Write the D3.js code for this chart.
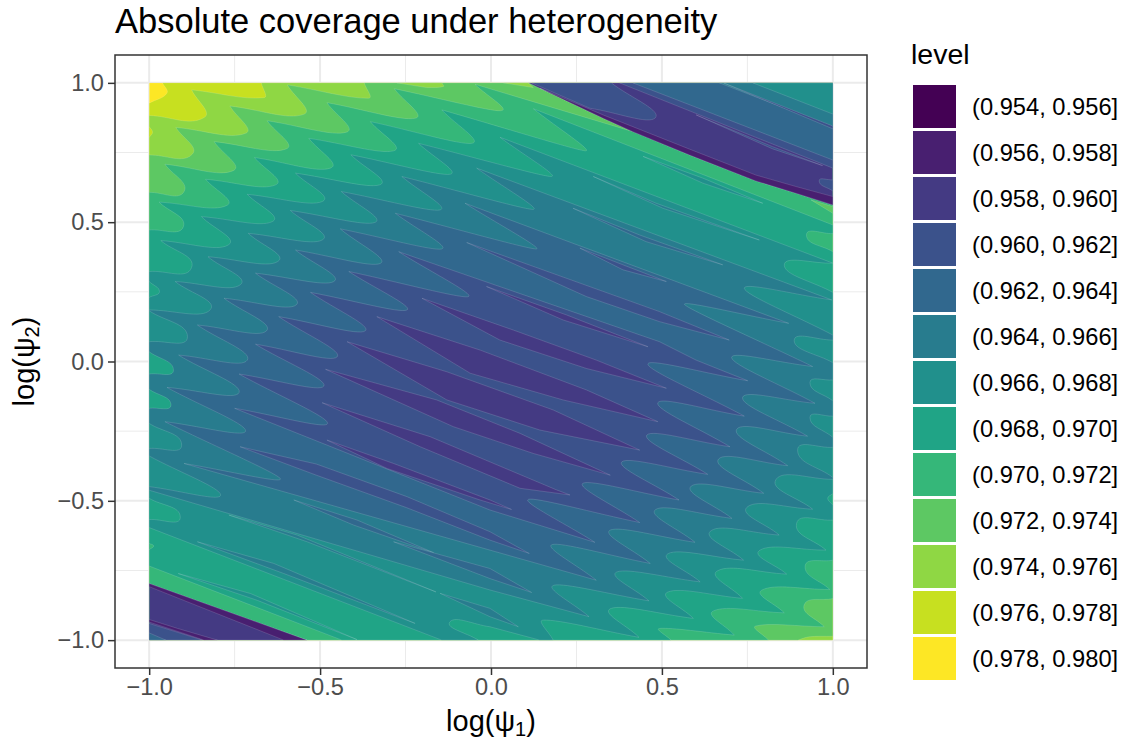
<!DOCTYPE html>
<html>
<head>
<meta charset="utf-8">
<script src="https://cdn.jsdelivr.net/npm/d3@7"></script>
<style>
  html, body { margin: 0; padding: 0; background: #fff; }
  text { font-family: "Liberation Sans", Arial, sans-serif; }
</style>
</head>
<body>
<div id="chart"></div>
<script>
// legend levels
const levels = ['(0.954, 0.956]', '(0.956, 0.958]', '(0.958, 0.960]', '(0.960, 0.962]', '(0.962, 0.964]',
  '(0.964, 0.966]', '(0.966, 0.968]', '(0.968, 0.970]', '(0.970, 0.972]', '(0.972, 0.974]',
  '(0.974, 0.976]', '(0.976, 0.978]', '(0.978, 0.980]'];
const xTicks = [-1, -0.5, 0, 0.5, 1];
const yTicks = [-1, -0.5, 0, 0.5, 1];
const minorTicks = [-0.75, -0.25, 0.25, 0.75];

// contours as [log psi1, log psi2], third entry marks a rounded nose
const below978 = [[-1,.927],[-.948,.963,1],[-.961,1],[1,1],[1,-1],[-1,-1]];
const below976 = [[-1,.883],[-.839,.876,1],[-.876,.975],[-.664,.947,1],[-.672,1],[1,1],[1,-1],[-1,-1]];
const below974 = [[-1,.741],[-.874,.744,1],[-.922,.84],[-.718,.819,1],[-.764,.917],[-.548,.887,1],[-.596,.993],
  [-.358,.945,1],[-.371,1],[1,1],[1,-.986],[.931,-.988,1],[.897,-1],[-1,-1]];
const below972 = [[-1,.607],[-.898,.61,1],[-.954,.708],[-.754,.685,1],[-.81,.789],[-.599,.763,1],[-.655,.864],
  [-.423,.823,1],[-.48,.929],[-.222,.873,1],[-.283,.979],[.028,.9,1],[-.047,.995],[.415,.825],[1,1],
  [1,-.851],[.916,-.874,1],[.975,-.952],[.775,-.949,1],[.812,-1],[-1,-1]];
const below970 = [[-1,.472],[-.9,.484,1],[-.971,.572],[-.773,.56,1],[-.835,.654],[-.63,.634,1],[-.692,.732],
  [-.47,.694,1],[-.533,.801],[-.285,.756,1],[-.353,.861],[-.056,.783,1],[-.144,.903],[.277,.756,1],[.124,.907],
  [1,.49],[1,.459],[.923,.454,1],[1,.394],[1,-.713],[.919,-.734,1],[.991,-.818],[.793,-.82,1],[.858,-.902],
  [.651,-.895,1],[.712,-.982],[.493,-.958,1],[.527,-1],[-.436,-1],[-1,-.734]];
const below968 = [[-1,.323],[-.876,.337,1],[-.966,.434],[-.769,.418,1],[-.847,.52],[-.64,.502,1],[-.713,.6],
  [-.494,.574,1],[-.572,.676],[-.326,.634,1],[-.41,.742],[-.12,.672,1],[-.212,.783],[.177,.664,1],[.026,.805],
  [1,.353],[.858,.346,1],[1,.248],[1,-.474],[.985,-.491,1],[1,-.515],[1,-.569],[.894,-.581,1],[.98,-.677],
  [.787,-.677,1],[.865,-.763],[.663,-.751,1],[.736,-.85],[.518,-.827,1],[.592,-.922],[.352,-.886,1],[.433,-.99],
  [.153,-.928,1],[.182,-1],[.143,-1],[-.003,-.952],[-.12,-.934,1],[-.037,-1],[-.144,-1],[-1,-.596]];
const below966 = [[-1,.185],[-.822,.185,1],[-.924,.287],[-.734,.275,1],[-.828,.376],[-.625,.358,1],[-.71,.46],
  [-.494,.436,1],[-.587,.542],[-.34,.499,1],[-.438,.61],[-.149,.544,1],[-.261,.664],[.124,.546,1],[-.042,.694],
  [.997,.221],[.741,.263,1],[1,.095],[1,.077],[.887,.075,1],[1,-.004],[1,-.066],[.933,-.076,1],[1,-.141],
  [1,-.196],[.933,-.201,1],[1,-.272],[1,-.308],[.897,-.318,1],[1,-.416],[1,-.423],[.834,-.423,1],[.941,-.53],
  [.751,-.521,1],[.843,-.623],[.644,-.607,1],[.739,-.713],[.519,-.689,1],[.612,-.791],[.369,-.755,1],[.462,-.859],
  [.184,-.803,1],[.287,-.916],[-.003,-.82],[-1,-.462],[-1,-.449],[-.791,-.479,1],[-1,-.339],[-1,-.312],
  [-.905,-.3,1],[-1,-.222],[-1,.071],[-.888,.089,1],[-1,.182]];
const below964 = [[-.898,-.366],[-.616,-.421,1],[-.954,-.216],[-.718,-.249,1],[-.948,-.093],[-.737,-.111,1],
  [-.914,.023],[-.713,.005,1],[-.859,.131],[-.657,.11,1],[-.781,.227],[-.57,.203,1],[-.689,.317],[-.46,.287,1],
  [-.572,.4],[-.324,.352,1],[-.441,.476],[-.144,.404,1],[-.28,.532],[.133,.404,1],[-.076,.568],[.871,.137],
  [.566,.205,1],[.941,-.018],[.704,.014,1],[.948,-.15],[.736,-.129,1],[.926,-.268],[.719,-.243,1],[.868,-.374],
  [.666,-.35,1],[.798,-.473],[.586,-.447,1],[.705,-.563],[.482,-.531,1],[.597,-.649],[.349,-.605,1],[.466,-.725],
  [.179,-.657,1],[.308,-.785]];
const below962 = [[-.27,.394],[.493,.071],[.6,.005],[.751,-.069],[.459,-.009,1],[.741,-.196],[.488,-.148,1],
  [.699,-.306],[.456,-.264,1],[.634,-.405],[.383,-.36,1],[.55,-.497],[.269,-.437,1],[.435,-.578],[.109,-.495,1],
  [.304,-.649],[-.003,-.533],[-.75,-.168],[-.478,-.222,1],[-.737,-.045],[-.489,-.088,1],[-.689,.062],
  [-.45,.017,1],[-.621,.161],[-.368,.11,1],[-.528,.248],[-.246,.185,1],[-.416,.323],[-.066,.233,1]];

// thin islands of the next band down: [band index, outline]
const islands = [
  [3, [[-.071,.427],[.493,.179],[.697,.077],[.493,.143],[.279,.233]]],
  [3, [[-.734,-.306],[-.511,-.368],[-.246,-.485],[-.003,-.611],[.112,-.689],[-.003,-.641],[-.246,-.525],[-.511,-.408]]],
  [2, [[-.494,-.148],[-.178,-.27],[.192,-.461],[.231,-.479],[.085,-.455],[-.207,-.306]]],
  [2, [[-.484,-.028],[-.159,-.138],[.085,-.258],[.349,-.408],[.124,-.33],[-.11,-.234]]],
  [2, [[-.421,.071],[-.129,-.037],[.182,-.174],[.435,-.318],[.143,-.246],[-.129,-.138]]],
  [2, [[-.334,.161],[-.032,.041],[.279,-.102],[.488,-.216],[.211,-.138],[-.061,-.042]]],
  [2, [[-.202,.227],[.065,.113],[.308,.005],[.513,-.096],[.279,-.025],[.026,.077]]],
  [2, [[-.013,.269],[.221,.167],[.459,.053],[.211,.149]]],
  [2, [[-.48,-.282],[-.285,-.366],[-.003,-.497],[.06,-.531],[-.032,-.497],[-.304,-.384]]],
  [4, [[-.577,-.497],[-.392,-.569],[-.168,-.686],[-.402,-.587]]],
  [5, [[-.767,-.551],[-.567,-.623],[-.161,-.827],[-.538,-.647]]],
  [5, [[-.859,-.647],[-.635,-.725],[-.222,-.94],[-.606,-.761]]],
  [6, [[-.915,-.761],[-.703,-.833],[-.392,-.998],[-.684,-.857]]],
  [4, [[-.285,-.647],[-.003,-.743],[.119,-.829],[-.003,-.779]]],
  [5, [[-.149,-.832],[-.003,-.886],[.08,-.952],[-.003,-.916]]],
  [6, [[.445,.736],[.62,.658],[.795,.568],[.62,.64]]],
  [5, [[.299,.664],[.483,.568],[.785,.436],[.503,.55]]],
  [4, [[.24,.55],[.435,.454],[.678,.347],[.454,.43]]],
  [3, [[.26,.407],[.386,.347],[.513,.287],[.386,.329]]]
];

// small leaves on the panel edges
const edgeLeaves = [
  [11, [[-1,.843],[-.99,.823,1],[-1,.804]]],
  [10, [[-.275,1],[-.188,.983],[-.139,.987,1],[-.144,1]]],
  [10, [[.036,1],[.124,.983],[.109,1]]],
  [9, [[.936,.58],[1,.556],[1,.532]]],
  [7, [[-1,.287],[-.97,.251,1],[-1,.23]]],
  [7, [[-1,.035],[-.929,-.031,1],[-1,-.045]]],
  [7, [[-1,-.1],[-.936,-.156,1],[-1,-.168]]],
  [7, [[-1,-.491],[-.909,-.559,1],[-1,-.567]]],
  [8, [[-1,-.653],[-.987,-.662,1],[-1,-.675]]]
];

// top right corner, beyond the jump
const upperCorner = [
  [2, [[.109,1],[.328,.873],[.415,.825],[.581,.741],[.775,.648],[.892,.604],[1,.562],[1,1]]],
  [1, [[.143,.981],[.328,.873],[.415,.825],[.581,.741],[.775,.648],[.892,.604],[1,.562],[1,.592],[.892,.628],[.775,.669],[.581,.762],[.328,.885]]],
  [3, [[.119,1],[.352,1],[.481,.875,1],[.289,.909]]],
  [3, [[.376,1],[1,1],[1,.694]]],
  [4, [[.415,1],[1,1],[1,.723]]],
  [5, [[.668,1],[1,1],[1,.843]]],
  [3, [[.68,1],[1,.845],[1,.835]]],
  [6, [[.766,1],[1,1],[1,.888]]],
  [3, [[1,.652],[.96,.648,1],[1,.612]]],
  [3, [[.6,.885],[.824,.771],[.97,.703],[.824,.763]]]
];

// bottom left corner, beyond the jump
const lowerCorner = [
  [2, [[-1,-.797],[-.538,-1],[-1,-1]]],
  [1, [[-1,-.797],[-.538,-1],[-.606,-1],[-1,-.808]]],
  [1, [[-1,-.926],[-.917,-.958],[-.8,-1],[-.839,-1],[-1,-.935]]],
  [3, [[-1,-.94],[-.844,-1],[-1,-1]]],
  [4, [[-1,-.974],[-.951,-1],[-1,-1]]]
];

const palette = ['#440154', '#481F70', '#443A83', '#3B528B', '#31688E', '#287C8E', '#21908C',
  '#20A486', '#35B779', '#5DC863', '#8FD744', '#C7E020', '#FDE725'];

const width = 1123;
const height = 743;
const panel = { left: 115, right: 867, top: 55, bottom: 668 };

const x = d3.scaleLinear().domain([-1.1, 1.1]).range([panel.left, panel.right]);
const y = d3.scaleLinear().domain([-1.1, 1.1]).range([panel.bottom, panel.top]);
const color = d3.scaleOrdinal().domain(levels).range(palette);

const svg = d3.select('#chart').append('svg')
  .attr('width', width)
  .attr('height', height)
  .style('display', 'block');

// Title
svg.append('text')
  .attr('x', 115)
  .attr('y', 33)
  .attr('font-size', 34.5)
  .text('Absolute coverage under heterogeneity');

// Grid
const grid = svg.append('g');
minorTicks.forEach((t) => {
  grid.append('line').attr('x1', x(t)).attr('x2', x(t)).attr('y1', panel.top).attr('y2', panel.bottom)
    .attr('stroke', '#EBEBEB').attr('stroke-width', 1);
  grid.append('line').attr('y1', y(t)).attr('y2', y(t)).attr('x1', panel.left).attr('x2', panel.right)
    .attr('stroke', '#EBEBEB').attr('stroke-width', 1);
});
xTicks.forEach((t) => {
  grid.append('line').attr('x1', x(t)).attr('x2', x(t)).attr('y1', panel.top).attr('y2', panel.bottom)
    .attr('stroke', '#EBEBEB').attr('stroke-width', 2);
});
yTicks.forEach((t) => {
  grid.append('line').attr('y1', y(t)).attr('y2', y(t)).attr('x1', panel.left).attr('x2', panel.right)
    .attr('stroke', '#EBEBEB').attr('stroke-width', 2);
});

// Turn a contour into a path, sharp at the tips, smooth through the noses
const contourPath = (pts) => {
  const p = pts.map((d) => [x(d[0]), y(d[1]), d[2]]);
  const n = p.length;
  // direction of travel through a nose, and how wide it opens
  const noseAt = (i) => {
    const v = p[i];
    const a = p[(i - 1 + n) % n];
    const b = p[(i + 1) % n];
    const len = Math.hypot(b[0] - a[0], b[1] - a[1]);
    const turn = Math.atan2(a[1] - v[1], a[0] - v[0]) - Math.atan2(b[1] - v[1], b[0] - v[0]);
    return { t: [(b[0] - a[0]) / len, (b[1] - a[1]) / len], open: Math.abs(Math.sin(turn / 2)) };
  };
  const path = d3.path();
  path.moveTo(p[0][0], p[0][1]);
  for (let i = 1; i <= n; i += 1) {
    const from = p[i - 1];
    const to = p[i % n];
    const len = Math.hypot(to[0] - from[0], to[1] - from[1]);
    let c1 = [from[0] + (to[0] - from[0]) * 0.4, from[1] + (to[1] - from[1]) * 0.4];
    let c2 = [from[0] + (to[0] - from[0]) * 0.6, from[1] + (to[1] - from[1]) * 0.6];
    if (from[2]) {
      const nose = noseAt(i - 1);
      const h = Math.min(0.32 * len, 38 * nose.open);
      c1 = [from[0] + nose.t[0] * h, from[1] + nose.t[1] * h];
    }
    if (to[2]) {
      const nose = noseAt(i % n);
      const h = Math.min(0.32 * len, 38 * nose.open);
      c2 = [to[0] - nose.t[0] * h, to[1] - nose.t[1] * h];
    }
    if (from[2] || to[2]) path.bezierCurveTo(c1[0], c1[1], c2[0], c2[1], to[0], to[1]);
    else path.lineTo(to[0], to[1]);
  }
  path.closePath();
  return path.toString();
};

svg.append('clipPath').attr('id', 'field')
  .append('rect')
  .attr('x', x(-1))
  .attr('y', y(1))
  .attr('width', x(1) - x(-1))
  .attr('height', y(-1) - y(1));

// Paint the bands from the highest level down, then the islands and corners on top
const layers = [
  [12, [[-1,1],[1,1],[1,-1],[-1,-1]]],
  [11, below978], [10, below976], [9, below974], [8, below972], [7, below970],
  [6, below968], [5, below966], [4, below964], [3, below962],
  ...islands, ...edgeLeaves, ...upperCorner, ...lowerCorner
];

svg.append('g')
  .attr('clip-path', 'url(#field)')
  .selectAll('path')
  .data(layers)
  .enter()
  .append('path')
  .attr('d', (d) => contourPath(d[1]))
  .attr('fill', (d) => color(levels[d[0]]))
  .attr('stroke', '#fff')
  .attr('stroke-opacity', 0.28)
  .attr('stroke-width', 0.5);

// Panel border
svg.append('rect')
  .attr('x', panel.left)
  .attr('y', panel.top)
  .attr('width', panel.right - panel.left)
  .attr('height', panel.bottom - panel.top)
  .attr('fill', 'none')
  .attr('stroke', '#333333')
  .attr('stroke-width', 1.5);

// Axes
const fmt = (d) => d3.format('.1f')(d).replace('-', '\u2212');
const xAxis = svg.append('g')
  .attr('transform', `translate(0,${panel.bottom})`)
  .call(d3.axisBottom(x).tickValues(xTicks).tickFormat(fmt).tickSizeOuter(0).tickSize(7).tickPadding(3));
const yAxis = svg.append('g')
  .attr('transform', `translate(${panel.left},0)`)
  .call(d3.axisLeft(y).tickValues(yTicks).tickFormat(fmt).tickSizeOuter(0).tickSize(7).tickPadding(4));
[xAxis, yAxis].forEach((axis) => {
  axis.select('.domain').remove();
  axis.selectAll('line').attr('stroke', '#333333').attr('stroke-width', 1.5);
  axis.selectAll('text')
    .attr('fill', '#4D4D4D')
    .attr('font-size', 23.6)
    .attr('font-family', '"Liberation Sans", Arial, sans-serif');
});

// Axis titles
const xTitle = svg.append('text')
  .attr('x', 491)
  .attr('y', 731)
  .attr('text-anchor', 'middle')
  .attr('font-size', 29);
xTitle.append('tspan').text('log(\u03C8');
xTitle.append('tspan').attr('font-size', 20).attr('dy', 5).text('1');
xTitle.append('tspan').attr('dy', -5).text(')');

const yTitle = svg.append('text')
  .attr('transform', `translate(34,${y(0)}) rotate(-90)`)
  .attr('text-anchor', 'middle')
  .attr('font-size', 29);
yTitle.append('tspan').text('log(\u03C8');
yTitle.append('tspan').attr('font-size', 20).attr('dy', 5).text('2');
yTitle.append('tspan').attr('dy', -5).text(')');

// Legend
svg.append('text')
  .attr('x', 911)
  .attr('y', 64)
  .attr('font-size', 28.5)
  .text('level');

const legend = svg.append('g')
  .selectAll('g')
  .data(levels)
  .enter()
  .append('g')
  .attr('transform', (d, i) => `translate(913,${85 + i * 46})`);
legend.append('rect')
  .attr('width', 43)
  .attr('height', 43)
  .attr('fill', (d) => color(d));
legend.append('text')
  .attr('x', 59)
  .attr('y', 22)
  .attr('dy', '0.35em')
  .attr('font-size', 23.7)
  .text((d) => d);
</script>
</body>
</html>
